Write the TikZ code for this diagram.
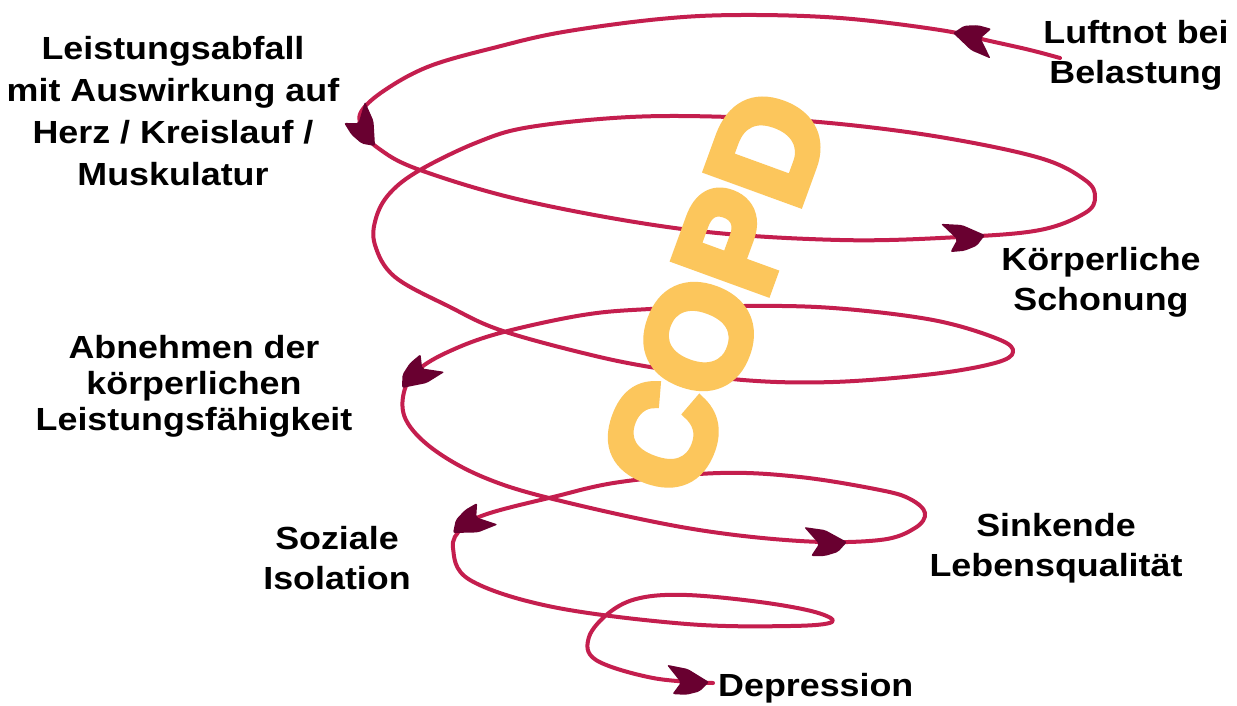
\documentclass[tikz,border=0pt]{standalone}
\usepackage{fontspec}
\setmainfont{Liberation Sans}
\newfontfamily\lblfont{Liberation Sans}[FakeStretch=1.12]
\newfontfamily\copdfont{Liberation Sans}[FakeBold=6]
\definecolor{spiralred}{RGB}{196,30,78}
\definecolor{arrowdark}{RGB}{105,0,48}
\definecolor{copdorange}{RGB}{252,198,92}
\tikzset{
  spiral/.style={draw=spiralred, line width=4pt, line cap=round, line join=round},
  lbl/.style={font=\lblfont\fontsize{32}{40}\bfseries, align=center, inner sep=0pt, anchor=north, text=black},
  arrhead/.pic={\fill[arrowdark, rounded corners=2pt] (0,0) -- (-9,10) -- (-22,14) -- (-36,14) -- (-28,2) -- (-43,-15) -- (-22,-12) -- cycle;}
}
\begin{document}
\begin{tikzpicture}[x=1pt, y=-1pt]
\path[use as bounding box, fill=white] (0,0) rectangle (1237,705);

% spiral
\draw[spiral] plot[smooth, tension=0.6] coordinates {
(1060,58) (1030,50) (990,41) (940,30) (840,18) (740,15) (660,19) (563,32) (497,47) (430,66) (385,90) (361,112) (363,130) (378,148) (420,170) (530,202) (690,230) (840,240) (960,237) (1040,230) (1085,213) (1095,197) (1085,180) (1040,158) (940,137) (830,123) (730,117) (630,117) (530,127) (478,142) (420,170) (390,193) (376,218) (375,245) (395,277) (450,307) (500,330) (583,353) (650,367) (743,380) (833,382) (933,374) (995,363) (1013,352) (998,339) (933,320) (833,308) (743,306) (650,309) (583,315) (500,333) (450,351) (418,370) (404,392) (406,420) (433,449) (483,477) (553,499) (687,528) (800,541) (880,540) (915,528) (925,513) (910,499) (880,490) (800,477) (720,473) (620,482) (553,497) (487,514) (462,528) (453,548) (470,580) (553,607) (687,624) (790,626) (832,622) (815,612) (760,602) (687,595) (640,598) (610,612) (589,637) (596,660) (653,678) (713,683)};

% arrowheads
\pic[rotate=165] at (953,33) {arrhead};
\pic[rotate=-58] at (375,146) {arrhead};
\pic[rotate=5] at (985,235) {arrhead};
\pic[rotate=-140] at (402,388) {arrhead};
\pic[rotate=0] at (847,542) {arrhead};
\pic[rotate=-150] at (453,533) {arrhead};
\pic[rotate=-3] at (709,682) {arrhead};

% COPD
\node[rotate=70, inner sep=0pt, text=copdorange, font=\copdfont\fontsize{142}{142}\bfseries] (copd) at (715,292) {COPD};

% labels
\node[lbl, font=\lblfont\fontsize{32}{42}\bfseries] (leist) at (173,36) {Leistungsabfall\\mit Auswirkung auf\\Herz / Kreislauf /\\Muskulatur};
\node[lbl] (luft) at (1136,20) {Luftnot bei\\Belastung};
\node[lbl] (koerp) at (1101,247) {Körperliche\\Schonung};
\node[lbl, font=\lblfont\fontsize{32}{36}\bfseries] (abn) at (194,335) {Abnehmen der\\körperlichen\\Leistungsfähigkeit};
\node[lbl] (sink) at (1056,513) {Sinkende\\Lebensqualität};
\node[lbl] (soz) at (337,526) {Soziale\\Isolation};
\node[lbl, anchor=north west] (dep) at (718,673) {Depression};
\end{tikzpicture}
\end{document}
